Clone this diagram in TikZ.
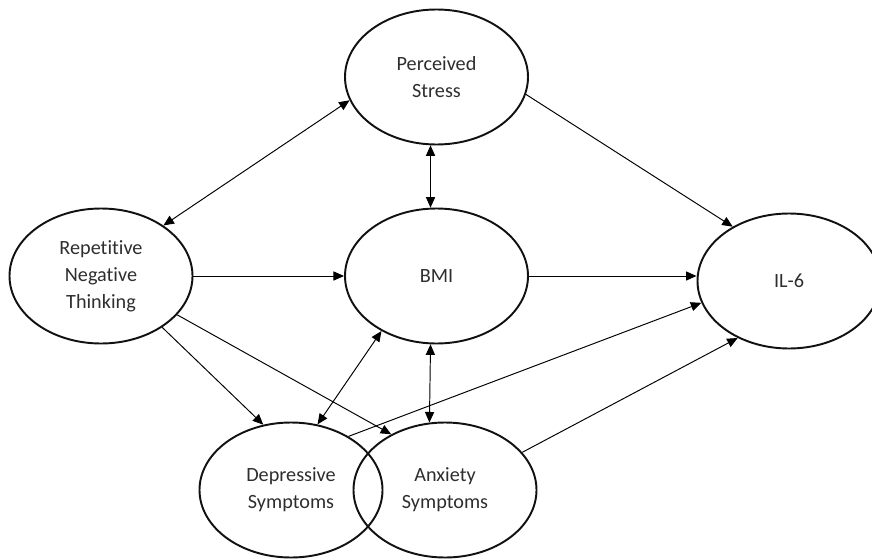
\documentclass[tikz,border=0pt]{standalone}
\usepackage{fontspec}
\setmainfont{Carlito}[Ligatures={NoCommon}]
\usepackage{tikz}
\usetikzlibrary{arrows.meta,positioning,shapes.geometric,calc}
\usepackage{xcolor}
\definecolor{latentborder}{HTML}{111111}
\definecolor{labelgray}{HTML}{2E2E2E}

\begin{document}
\begin{tikzpicture}[
  >={Triangle[length=6pt,width=5.2pt]},
  latent/.style={
    ellipse,
    draw=latentborder,
    line width=1.1pt,
    inner sep=0pt,
    minimum width=3.66cm,
    minimum height=2.70cm,
    align=center,
    text=labelgray,
    font=\fontsize{11.5pt}{15.3pt}\selectfont
  },
  path/.style={
    ->,
    draw=black,
    line width=0.55pt
  },
  covpath/.style={
    <->,
    draw=black,
    line width=0.55pt
  }
]
  \useasboundingbox (0,0) rectangle (17.44,11.16);

  % --- LATENT VARIABLES ---
  \node[latent] (stress) at (8.73, 9.62) {Perceived\\Stress};
  \node[latent] (bmi) at ($(stress)+(0,-3.98)$) {BMI};
  \node[latent] (rnt) at ($(bmi)+(-6.71,0)$) {Repetitive\\Negative\\Thinking};
  \node[latent] (il6) at ($(bmi)+(7.05,-0.10)$) {IL-6};
  \node[latent] (depress) at (5.82, 1.36) {Depressive\\Symptoms};
  \node[latent] (anxiety) at ($(depress)+(3.08,0)$) {Anxiety\\Symptoms};

  % --- COVARIANCES ---
  \draw[covpath] (rnt.39) -- (stress.195);
  \draw[covpath] (stress.265) -- (bmi.95);
  \draw[covpath] (bmi.225) -- (depress.68);
  \draw[covpath] (bmi.265) -- (anxiety.103);

  % --- DIRECTED PATHS ---
  \draw[path] (rnt.0) -- (bmi.180);
  \draw[path] (rnt.-40) -- (depress.113);
  \draw[path] (rnt.-27) -- (anxiety.134);
  \draw[path] (stress.-11) -- (il6.136);
  \draw[path] (bmi.east) -- (bmi.east -| il6.west);
  \draw[path] (depress.43) -- (il6.194);
  \draw[path] (anxiety.26) -- (il6.228);

\end{tikzpicture}
\end{document}
